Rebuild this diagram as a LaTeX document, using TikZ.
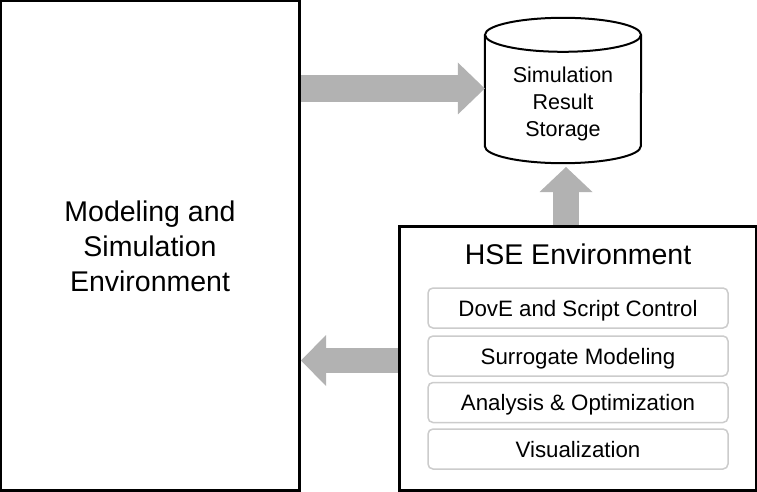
\documentclass[tikz,border=0pt]{standalone}
\usepackage{fontspec}
\setmainfont{Liberation Sans}
\usetikzlibrary{arrows.meta}
\begin{document}
\begin{tikzpicture}[x=1pt,y=-1pt,
  bigbox/.style={draw=black, line width=2pt, fill=white, inner sep=0pt},
  bigtext/.style={font=\fontsize{28.5}{35}\selectfont, align=center},
  subbox/.style={draw=gray!40, line width=1.5pt, rounded corners=5pt, minimum width=300pt, minimum height=40pt, inner sep=0pt, text height=16pt, text depth=0pt, font=\fontsize{22.3}{26}\selectfont},
  cyltext/.style={font=\fontsize{21.5}{26.8}\selectfont, align=center},
  flowarrow/.style={draw=gray!60, line width=#1},
]
\useasboundingbox (0,0) rectangle (757,492);

% Modeling and Simulation Environment
\node[bigbox, minimum width=298pt, minimum height=489pt] (msenv) at (150,245.5) {};
\node[bigtext] (mstext) at (150,246) {Modeling and\\Simulation\\Environment};

% Simulation Result Storage (cylinder)
\node[minimum width=156pt, minimum height=111pt, inner sep=0pt] (cyl) at (563,90.5) {};
\draw[line width=2pt, fill=white] (cyl.north west) -- (cyl.south west)
  arc[start angle=180, end angle=0, x radius=78, y radius=17] -- (cyl.north east);
\draw[line width=2pt, fill=white] (cyl.north) ellipse[x radius=78, y radius=17];
\node[cyltext] (cyltxt) at (563,104) {Simulation\\Result\\Storage};

% HSE Environment
\node[bigbox, minimum width=356pt, minimum height=263pt] (hse) at (578,358.5) {};
\node[font=\fontsize{28.5}{35}\selectfont, anchor=base] (hsetitle) at (578,264) {HSE Environment};
\node[subbox] (s1) at (578,308) {DovE and Script Control};
\node[subbox] (s2) at (578,356) {Surrogate Modeling};
\node[subbox] (s3) at (578,402.5) {Analysis \& Optimization};
\node[subbox] (s4) at (578,449) {Visualization};

% Arrows
\coordinate (a1s) at (300,88.5);
\coordinate (a1e) at (cyl.west |- a1s);
\draw[flowarrow=27pt, -{Triangle[width=52pt,length=27pt,line width=0pt]}] (a1s) -- (a1e);

\coordinate (a2s) at (566,227);
\coordinate (a2e) at (566,167);
\draw[flowarrow=26pt, -{Triangle[width=53pt,length=25pt,line width=0pt]}] (a2s) -- (a2e);

\coordinate (a3s) at (400,360.5);
\coordinate (a3e) at (301,360.5);
\draw[flowarrow=25pt, -{Triangle[width=51pt,length=25pt,line width=0pt]}] (a3s) -- (a3e);

% redraw borders over arrow ends
\draw[line width=2pt] (hse.north west) rectangle (hse.south east);
\draw[line width=2pt] (msenv.north west) rectangle (msenv.south east);
\end{tikzpicture}
\end{document}
